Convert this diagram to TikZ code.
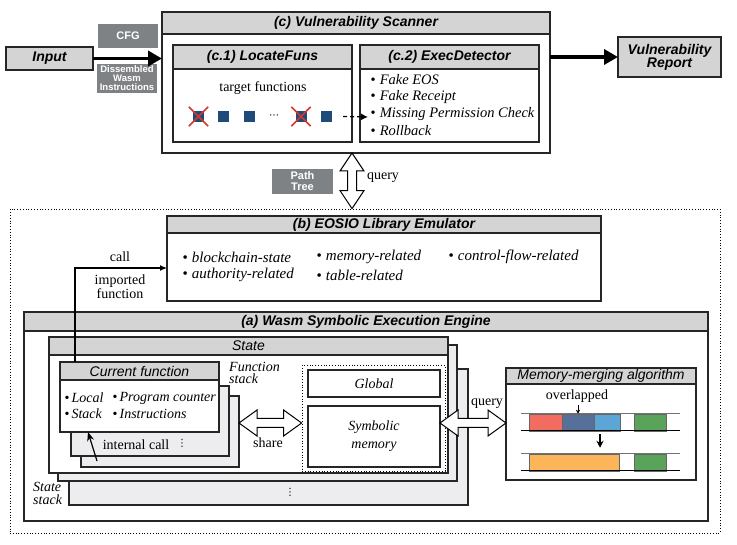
\documentclass[tikz,border=0pt]{standalone}
\usepackage{fontspec}
\setmainfont{Liberation Serif}
\setsansfont{Liberation Sans}
\newfontfamily\djv{DejaVu Sans}
\usetikzlibrary{arrows.meta,calc}
\definecolor{hdrgray}{HTML}{D4D4D4}
\definecolor{labgray}{HTML}{7F8284}
\definecolor{laygray}{HTML}{EDEDEF}
\definecolor{sqblue}{HTML}{1F4B7A}
\definecolor{crossred}{HTML}{D4382C}
\definecolor{cred}{HTML}{F26C5F}
\definecolor{cdblue}{HTML}{577099}
\definecolor{clblue}{HTML}{5BA6D6}
\definecolor{cgreen}{HTML}{59A35A}
\definecolor{corange}{HTML}{FDB55A}
\newcommand{\fsz}[2]{\fontsize{#1}{#2}\selectfont}
\begin{document}
\begin{tikzpicture}[x=1pt,y=-1pt,
  box/.style={draw=black!85,line width=1.1pt,rectangle,inner sep=0pt,outer sep=0pt},
  hdr/.style={box,fill=hdrgray,font=\sffamily\bfseries\itshape\fsz{14}{14}},
  shdr/.style={box,fill=hdrgray,font=\sffamily\itshape\fsz{14}{14}},
  lay/.style={box,fill=laygray},
  lbl/.style={fill=labgray,text=white,inner sep=0pt,align=center},
  sqb/.style={fill=sqblue,minimum size=11pt,inner sep=0pt},
  txt/.style={inner sep=0pt,font=\fsz{14}{14}},
  itx/.style={inner sep=0pt,font=\itshape\fsz{14}{14}},
  dts/.style={inner sep=0pt,font=\djv\fsz{10}{10}},
  bigarrow/.style={line width=3.5pt,-{Triangle[length=14pt,width=15pt]}},
  fat/.style={draw=black,line width=1pt,fill=white,line join=miter},
  dotbox/.style={draw=black,line width=0.8pt,dotted,rectangle,inner sep=0pt},
  cell/.style={draw=black!60,line width=0.5pt,inner sep=0pt,minimum height=17pt},
]
\useasboundingbox (0,0) rectangle (737,545);

% ---------- top: scanner ----------
\node[hdr,minimum width=87pt,minimum height=23pt] (input) at (49.5,58.5) {Input};
\node[lbl,minimum width=60pt,minimum height=24pt,font=\sffamily\bfseries\fsz{11}{11}] (cfg) at (128,36) {CFG};
\node[lbl,minimum width=60pt,minimum height=29pt,font=\sffamily\bfseries\fsz{9.5}{9}] (dis) at (127,78.5) {Dissembled\\Wasm\\Instructions};

\node[box,minimum width=388pt,minimum height=141pt] (scan) at (356,82.5) {};
\node[hdr,minimum width=388pt,minimum height=22pt,anchor=north] (scanh) at (scan.north) {(c) Vulnerability Scanner};

\node[box,minimum width=179pt,minimum height=97pt] (loc) at (262.5,93.5) {};
\node[hdr,minimum width=179pt,minimum height=24pt,anchor=north] (loch) at (loc.north) {(c.1) LocateFuns};
\node[box,minimum width=179pt,minimum height=97pt] (exd) at (449.5,93.5) {};
\node[hdr,minimum width=179pt,minimum height=24pt,anchor=north] (exdh) at (exd.north) {(c.2) ExecDetector};

\node[txt] (tf) at (263,88) {target functions};
\node[sqb] (sq1) at (198.5,116.5) {};
\node[sqb] (sq2) at (223.5,116.5) {};
\node[sqb] (sq3) at (249.5,116.5) {};
\node[dts] (sqd) at (274,116.5) {⋯};
\node[sqb] (sq4) at (301,116.5) {};
\node[sqb] (sq5) at (326.5,116.5) {};
\foreach \s in {sq1,sq4}{
  \draw[crossred,line width=1.5pt] ($(\s.north west)+(-4,-4)$) -- ($(\s.south east)+(4,4)$);
  \draw[crossred,line width=1.5pt] ($(\s.north east)+(4,-4)$) -- ($(\s.south west)+(-4,4)$);
}
\coordinate (dtip) at (368,117);
\draw[line width=1.2pt,dash pattern=on 4pt off 3pt,-{Latex[length=7pt,width=7pt]}] ($(sq5.east)+(11,0)$) -- (dtip);

\node[itx,anchor=west,font=\itshape\fsz{14.5}{14.5}] (e1) at (370.5,80) {\upshape\textbullet\hspace{4pt}\itshape Fake EOS};
\node[itx,anchor=west,font=\itshape\fsz{14.5}{14.5}] (e2) at (370.5,97) {\upshape\textbullet\hspace{4pt}\itshape Fake Receipt};
\node[itx,anchor=west,font=\itshape\fsz{14.5}{14.5}] (e3) at (370.5,114) {\upshape\textbullet\hspace{4pt}\itshape Missing Permission Check};
\node[itx,anchor=west,font=\itshape\fsz{14.5}{14.5}] (e4) at (370.5,131) {\upshape\textbullet\hspace{4pt}\itshape Rollback};

\node[hdr,minimum width=103pt,minimum height=40pt,align=center,font=\sffamily\bfseries\itshape\fsz{14}{13}] (rep) at (669.5,57) {Vulnerability\\Report};

\draw[bigarrow] (input.east) -- (input.east -| scan.west);
\draw[bigarrow] (rep.west -| scan.east) -- (rep.west);

% ---------- outer dotted region ----------
\node[dotbox,minimum width=710pt,minimum height=324pt] (outer) at (365,371) {};

\node[lbl,minimum width=61pt,minimum height=25pt,font=\sffamily\bfseries\fsz{11}{11}] (pt) at (302.5,181.5) {Path\\Tree};
\coordinate (qx) at (352,0);
\coordinate (vt) at (scan.south -| qx);
\coordinate (vb) at (outer.north -| qx);
\draw[fat] (vt) -- ++(12,18) -- ++(-7.5,0) -- ($(vb)+(4.5,-18)$) -- ++(7.5,0) -- (vb)
  -- ++(-12,-18) -- ++(7.5,0) -- ($(vt)+(-4.5,18)$) -- ++(-7.5,0) -- cycle;
\node[txt] (q1) at (383,178) {query};

% ---------- (b) library emulator ----------
\node[box,minimum width=434pt,minimum height=85pt,fill=white] (lib) at (384,258.5) {};
\node[hdr,minimum width=434pt,minimum height=17pt,anchor=north] (libh) at (lib.north) {(b) EOSIO Library Emulator};
\node[itx,anchor=west,font=\itshape\fsz{15}{15}] (b1) at (182.5,257) {\upshape\textbullet\hspace{4pt}\itshape blockchain-state};
\node[itx,anchor=west,font=\itshape\fsz{15}{15}] (b2) at (316.5,257) {\upshape\textbullet\hspace{4pt}\itshape memory-related};
\node[itx,anchor=west,font=\itshape\fsz{15}{15}] (b3) at (448.5,257) {\upshape\textbullet\hspace{4pt}\itshape control-flow-related};
\node[itx,anchor=west,font=\itshape\fsz{15}{15}] (b4) at (182.5,275) {\upshape\textbullet\hspace{4pt}\itshape authority-related};
\node[itx,anchor=west,font=\itshape\fsz{15}{15}] (b5) at (316.5,275) {\upshape\textbullet\hspace{4pt}\itshape table-related};

\node[txt] (call) at (120,257) {call};
\node[txt,align=center,font=\fsz{14}{12}] (imp) at (120,286.5) {imported\\function};

% ---------- (a) engine ----------
\node[box,minimum width=684pt,minimum height=209pt] (eng) at (366,416.5) {};
\node[hdr,minimum width=684pt,minimum height=19pt,anchor=north] (engh) at (eng.north) {(a) Wasm Symbolic Execution Engine};

\node[lay,minimum width=399pt,minimum height=136pt] (st3) at (268.5,437) {};
\node[lay,minimum width=399pt,minimum height=136pt] (st2) at (257.5,413) {};
\node[box,fill=white,minimum width=399pt,minimum height=136pt] (st1) at (248.5,405) {};
\node[shdr,minimum width=399pt,minimum height=18pt,anchor=north] (st1h) at (st1.north) {State};
\node[dts] (sdots) at (290,492) {⋮};
\node[itx,anchor=west,align=left,font=\itshape\fsz{14}{12.5}] (ssl) at (33,493.5) {State\\stack};

\node[lay,minimum width=158pt,minimum height=71pt] (fs3) at (160,431.5) {};
\node[lay,minimum width=158pt,minimum height=70pt] (fs2) at (150,421) {};
\node[box,fill=white,minimum width=159pt,minimum height=70pt] (cf) at (139.5,397) {};
\node[shdr,minimum width=159pt,minimum height=18pt,anchor=north] (cfh) at (cf.north) {Current function};
\node[itx,anchor=west] (cf1) at (64.5,398) {\upshape\textbullet\hspace{2pt}\itshape Local};
\node[itx,anchor=west] (cf2) at (112.5,398) {\upshape\textbullet\hspace{2pt}\itshape Program counter};
\node[itx,anchor=west] (cf3) at (64.5,414) {\upshape\textbullet\hspace{2pt}\itshape Stack};
\node[itx,anchor=west] (cf4) at (112.5,414) {\upshape\textbullet\hspace{2pt}\itshape Instructions};
\node[txt] (ic) at (136,445) {internal call};
\node[dts] (icd) at (182,443) {⋮};
\coordinate (ia) at (97,461);
\coordinate (ib) at (88,0);
\draw[line width=1.2pt,-{Stealth[length=9pt,width=7pt]}] (ia) -- (cf.south -| ib);
\node[itx,anchor=west,align=left,font=\itshape\fsz{14}{12.5}] (fsl) at (229,373) {Function\\stack};

\node[dotbox,minimum width=143pt,minimum height=106pt] (mem) at (373.5,418) {};
\node[box,minimum width=132pt,minimum height=27pt,font=\itshape\fsz{14}{14}] (glob) at (374,383.5) {Global};
\node[box,minimum width=132pt,minimum height=61pt,align=center,font=\itshape\fsz{14}{18}] (sym) at (374,436.5) {Symbolic\\memory};

\coordinate (sy) at (0,423);
\coordinate (shL) at (fs3.east |- sy);
\coordinate (shR) at (mem.west |- sy);
\draw[fat] (shL) -- ++(18,-13) -- ++(0,8.5) -- ($(shR)+(-18,-4.5)$) -- ++(0,-8.5) -- (shR)
  -- ++(-18,13) -- ++(0,-8.5) -- ($(shL)+(18,4.5)$) -- ++(0,8.5) -- cycle;
\node[txt] (share) at (268,443) {share};

% ---------- memory merging ----------
\node[box,fill=white,minimum width=190pt,minimum height=112pt] (mm) at (601,424) {};
\node[shdr,minimum width=190pt,minimum height=16pt,anchor=north] (mmh) at (mm.north) {Memory-merging algorithm};

\coordinate (qL) at (sym.east |- sy);
\coordinate (qR) at (mm.west |- sy);
\draw[fat] (qL) -- ++(18,-13) -- ++(0,8.5) -- ($(qR)+(-18,-4.5)$) -- ++(0,-8.5) -- (qR)
  -- ++(-18,13) -- ++(0,-8.5) -- ($(qL)+(18,4.5)$) -- ++(0,8.5) -- cycle;
\node[txt] (q2) at (487,404) {query};

\node[txt] (ovl) at (577,396) {overlapped};
\node[cell,fill=cred,minimum width=33pt] (c1) at (545.5,422.5) {};
\node[cell,fill=cdblue,minimum width=32pt] (c2) at (578,422.5) {};
\node[cell,fill=clblue,minimum width=26pt] (c3) at (607,422.5) {};
\node[cell,fill=cgreen,minimum width=32pt] (c4) at (650,422.5) {};
\node[cell,fill=corange,minimum width=90pt] (d1) at (574,462.5) {};
\node[cell,fill=cgreen,minimum width=32pt] (d2) at (650,462.5) {};
\draw[black!55,line width=1pt] (521,414) -- (680,414);
\draw[black,line width=1pt] (521,431) -- (680,431);
\draw[black!55,line width=1pt] (521,454) -- (680,454);
\draw[black,line width=1pt] (521,471) -- (680,471);
\draw[line width=0.8pt,-{Stealth[length=4pt,width=4pt]}] ($(ovl.south)+(1,2)$) -- (c2.north);
\coordinate (mx) at (600,0);
\draw[line width=1.6pt,-{Stealth[length=7pt,width=7pt]}] ($(c3.south -| mx)+(0,3)$) -- ($(d1.north -| mx)+(0,-6)$);

% ---------- call arrow ----------
\coordinate (cx) at (75,0);
\coordinate (cy) at (0,268);
\draw[line width=1.2pt,-{Latex[length=7pt,width=6pt]}] (cf.north -| cx) |- (lib.west |- cy);
\end{tikzpicture}
\end{document}
